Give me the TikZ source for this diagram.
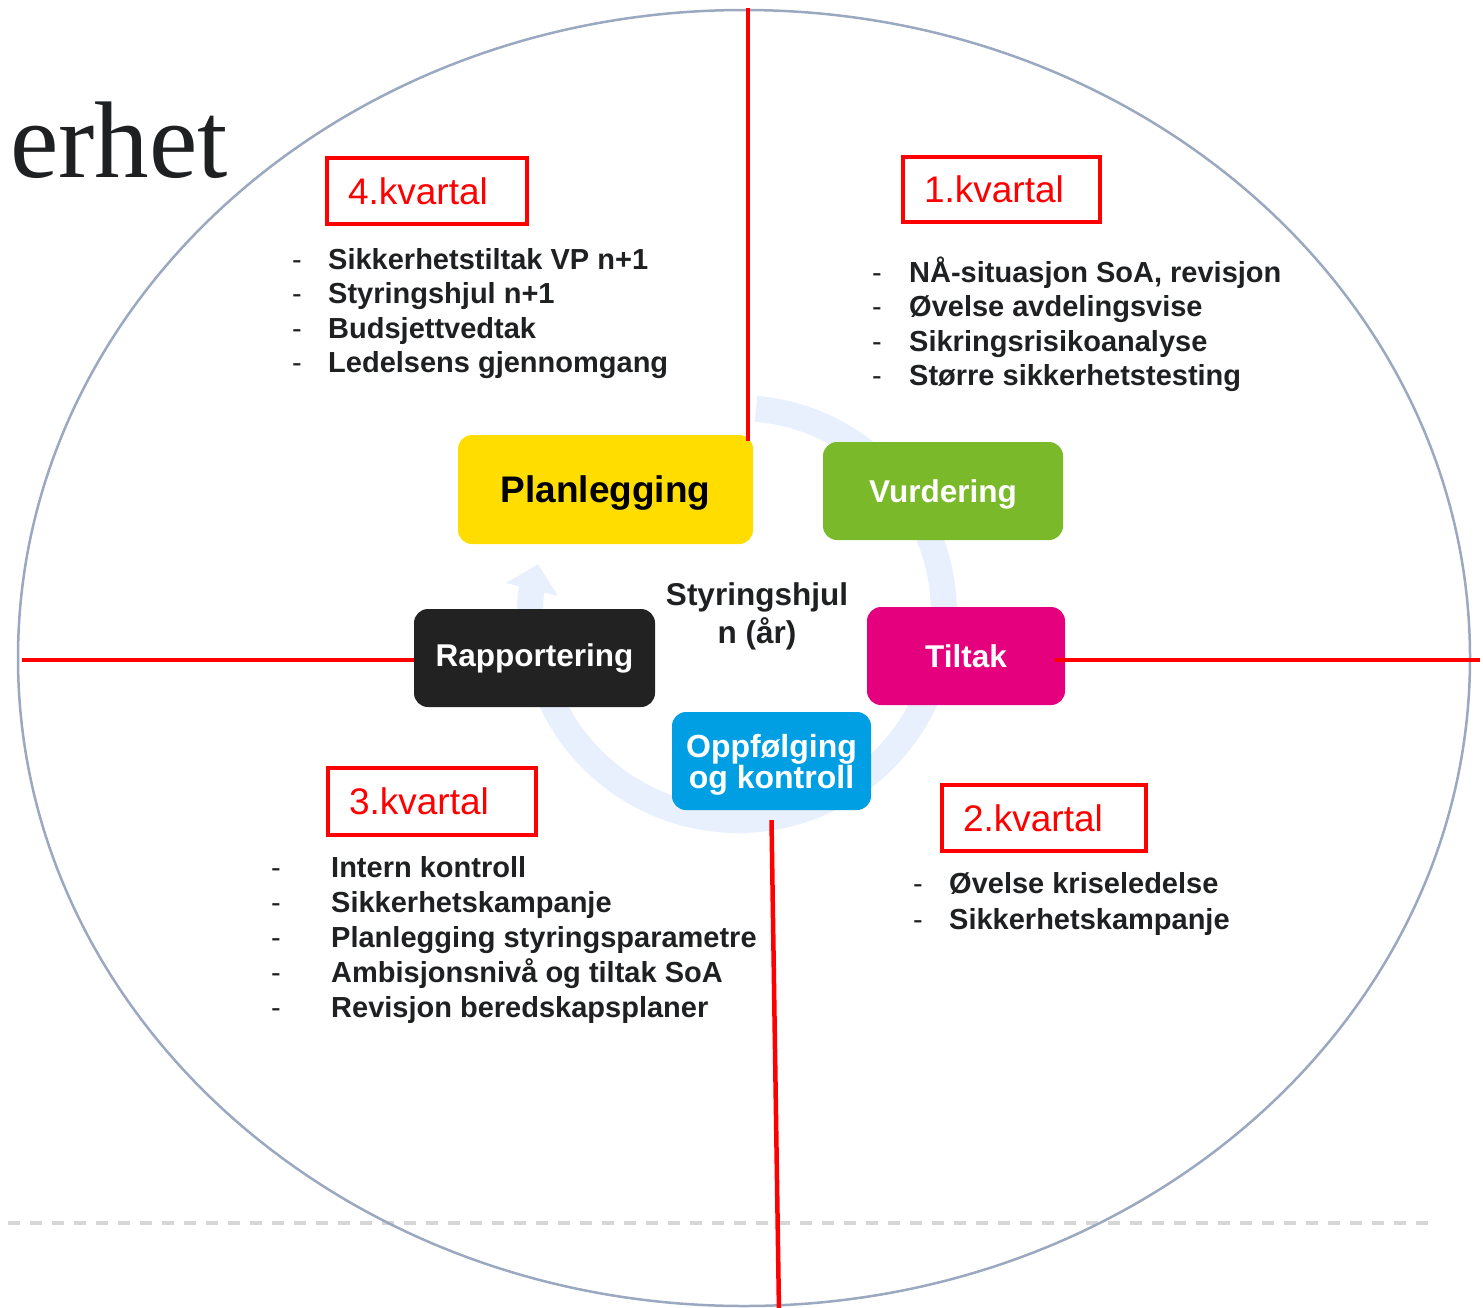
\documentclass[tikz,border=0pt]{standalone}
\usepackage{fontspec}
\setmainfont{Liberation Sans}
\newfontfamily\titlefont{Liberation Serif}
\usetikzlibrary{arrows.meta}

\definecolor{ringgray}{HTML}{9AA8C0}
\definecolor{cyclefill}{HTML}{E8F0FD}
\definecolor{planyellow}{HTML}{FFDD00}
\definecolor{vurdgreen}{HTML}{7AB929}
\definecolor{tiltmagenta}{HTML}{E5007D}
\definecolor{rapdark}{HTML}{222222}
\definecolor{oppblue}{HTML}{009FE3}
\definecolor{textdark}{HTML}{1E2021}
\definecolor{dashgray}{HTML}{D6D6D6}

\tikzset{
  fase/.style={rounded corners=14pt, text=white, inner sep=0pt,
    font=\fontsize{31.5}{31.5}\selectfont\bfseries},
  kvbox/.style={draw=red, line width=4.5pt, text=red, inner xsep=21pt,
    inner ysep=0pt, align=left, font=\fontsize{37}{44}\selectfont},
  liste/.style={anchor=base west, inner sep=0pt, text=textdark,
    font=\fontsize{29}{34.5}\selectfont\bfseries},
  skille/.style={red, line width=4.5pt},
}

\begin{document}
\begin{tikzpicture}[x=1pt, y=1pt]
\useasboundingbox (0,0) rectangle (1483,-1307);

% title remnant and footer line
\node[anchor=base west, inner sep=0pt, text=textdark,
  font=\titlefont\fontsize{109}{109}\selectfont] (tittel) at (10,-177) {erhet};
\draw[dashgray, line width=4pt, dash pattern=on 12pt off 10pt] (8,-1223) -- (1432,-1223);

% the year
\draw[ringgray, line width=2.5pt] (744,-658) ellipse [x radius=726, y radius=648];

% cycle arrow
\draw[cyclefill, line width=26pt, -{Triangle[length=26pt, width=52pt]}]
  (738,-614) ++(85:206) arc[start angle=85, end angle=-194, radius=206];

% phases
\node[fase, fill=planyellow, text=black, minimum width=295pt, minimum height=109pt,
  text depth=0pt, font=\fontsize{37}{37}\selectfont\bfseries] (plan) at (605.5,-489.5) {Planlegging};
\node[fase, fill=vurdgreen, minimum width=240pt, minimum height=98pt, text depth=0pt] (vurd) at (943,-491) {Vurdering};
\node[fase, fill=tiltmagenta, minimum width=198pt, minimum height=98pt] (tilt) at (966,-656) {Tiltak};
\node[fase, fill=rapdark, minimum width=241pt, minimum height=98pt] (rap) at (534.5,-658) {Rapportering};
\node[fase, fill=oppblue, minimum width=199pt, minimum height=98pt, align=center, text depth=0pt,
  font=\fontsize{32}{29}\selectfont\bfseries] (opp) at (771.5,-761) {Oppfølging\\og kontroll};

\node[text=textdark, align=center, font=\fontsize{31.5}{38}\selectfont\bfseries]
  (hjul) at (757,-616) {Styringshjul\\n (år)};

% quarter dividers
\coordinate (topp) at (748,-8);
\coordinate (venstre) at (22,-660);
\coordinate (hoyre) at (1480,-660);
\coordinate (bunn) at (779,-1312);
\draw[skille] (topp) -- ([yshift=-6pt]topp |- plan.north);
\draw[skille] (venstre) -- (venstre -| rap.west);
\draw[skille] ([xshift=-10pt]tilt.east |- hoyre) -- (hoyre);
\draw[skille] ([yshift=-10pt]opp.south) -- (bunn);

% quarters
\node[kvbox, text width=158pt, minimum height=66pt] (kv4) at (427,-191) {4.kvartal};
\node[kvbox, text width=155pt, minimum height=65pt] (kv1) at (1001.5,-189.5) {1.kvartal};
\node[kvbox, text width=166pt, minimum height=67pt] (kv3) at (432,-801.5) {3.kvartal};
\node[kvbox, text width=162pt, minimum height=66pt] (kv2) at (1044,-818) {2.kvartal};

\node[liste] (liste4) at (292,-269) {\begin{tabular}[t]{@{}p{36pt}@{}l@{}}
{\mdseries -} & Sikkerhetstiltak VP n+1\\
{\mdseries -} & Styringshjul n+1\\
{\mdseries -} & Budsjettvedtak\\
{\mdseries -} & Ledelsens gjennomgang
\end{tabular}};
\node[liste] (liste1) at (872,-282) {\begin{tabular}[t]{@{}p{37pt}@{}l@{}}
{\mdseries -} & NÅ-situasjon SoA, revisjon\\
{\mdseries -} & Øvelse avdelingsvise\\
{\mdseries -} & Sikringsrisikoanalyse\\
{\mdseries -} & Større sikkerhetstesting
\end{tabular}};
\node[liste, font=\fontsize{29}{35.2}\selectfont\bfseries] (liste3) at (271,-877) {\begin{tabular}[t]{@{}p{60pt}@{}l@{}}
{\mdseries -} & Intern kontroll\\
{\mdseries -} & Sikkerhetskampanje\\
{\mdseries -} & Planlegging styringsparametre\\
{\mdseries -} & Ambisjonsnivå og tiltak SoA\\
{\mdseries -} & Revisjon beredskapsplaner
\end{tabular}};
\node[liste, font=\fontsize{29}{36}\selectfont\bfseries] (liste2) at (913,-893) {\begin{tabular}[t]{@{}p{36pt}@{}l@{}}
{\mdseries -} & Øvelse kriseledelse\\
{\mdseries -} & Sikkerhetskampanje
\end{tabular}};

\end{tikzpicture}
\end{document}
